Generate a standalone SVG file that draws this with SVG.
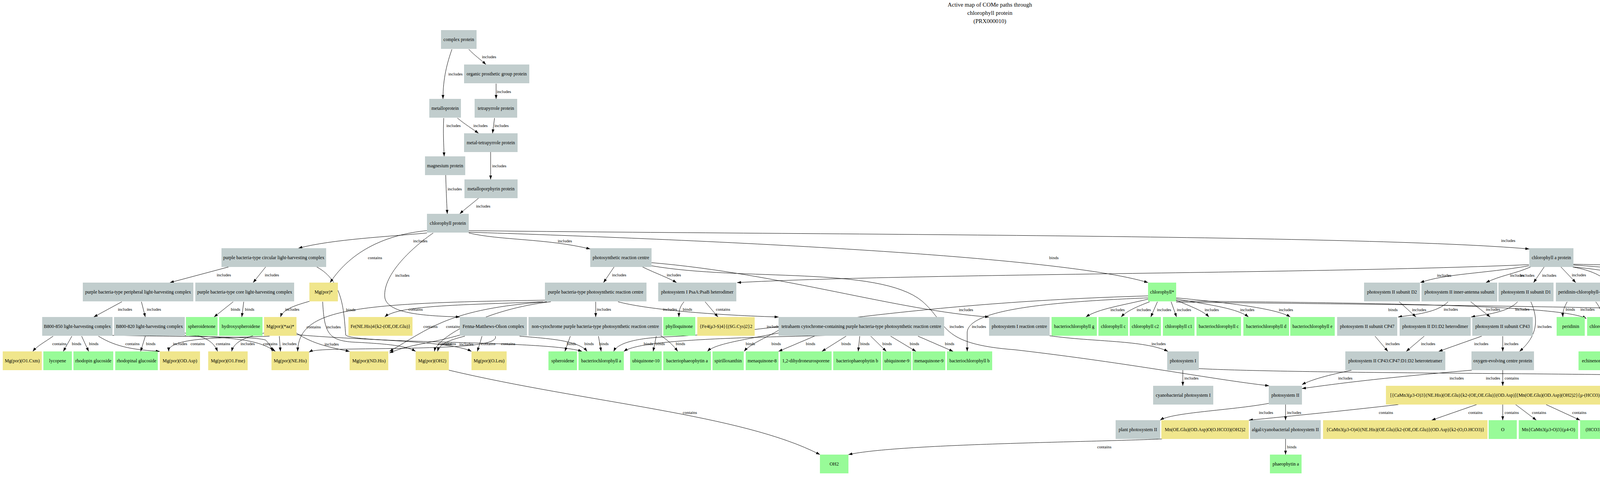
<svg xmlns="http://www.w3.org/2000/svg" width="5069" height="1228" viewBox="0 0 5069 1228">
<defs>
<marker id="a" markerWidth="10" markerHeight="8" refX="10" refY="3.5" orient="auto" markerUnits="userSpaceOnUse"><path d="M0,0L10,3.5L0,7z" fill="#000"/></marker>
<style>
text{font-family:"Liberation Serif","Times New Roman",serif;font-size:12px;text-anchor:middle;fill:#000}
.t{font-size:15px}
.l{font-size:11px}
.g rect{fill:#c1cdcd}
.y rect{fill:#f0e68c}
.v rect{fill:#98fb98}
#edges path{fill:none;stroke:#000;stroke-width:1;marker-end:url(#a)}
</style>
</defs>
<rect width="5069" height="1228" fill="#fff"/>
<g id="title">
<text class="t" x="2534" y="17">Active map of COMe paths through</text>
<text class="t" x="2534" y="38">chlorophyll protein</text>
<text class="t" x="2534" y="59">(PRX000010)</text>
</g>
<g id="edges">
<path d="M1157,126 C1145,160 1134,200 1134,253"/>
<path d="M1200,126 C1215,142 1230,152 1244,165"/>
<path d="M1270,214 L1270,253"/>
<path d="M1136,302 C1134,340 1136,370 1137,400"/>
<path d="M1171,302 C1190,318 1210,330 1225,341"/>
<path d="M1266,302 L1261,341"/>
<path d="M1256,389 L1256,459"/>
<path d="M1141,448 C1142,480 1143,510 1145,547"/>
<path d="M1225,507 C1210,520 1190,535 1177,547"/>
<path d="M1093,596 C1000,605 850,612 764,635"/>
<path d="M1093,590 C990,600 900,640 845,723"/>
<path d="M1109,596 C1060,630 980,700 985,760 C990,805 1100,808 1177,811"/>
<path d="M1200,596 C1280,615 1400,610 1511,637"/>
<path d="M1200,594 C1700,610 2700,650 2939,723"/>
<path d="M1200,590 C2000,600 3500,600 3915,637"/>
<path d="M1572,683 L1545,723"/>
<path d="M1645,683 C1680,700 1710,710 1732,723"/>
<path d="M1668,680 C1900,720 2250,680 2360,770 C2430,830 2400,880 2600,895 C2900,930 3100,970 3249,987"/>
<path d="M1668,672 C2000,700 2300,795 2532,811"/>
<path d="M3914,677 C3400,700 2300,700 1887,723"/>
<path d="M3914,680 C3800,700 3700,700 3636,723"/>
<path d="M3918,683 C3880,700 3840,705 3804,723"/>
<path d="M3953,683 L3926,723"/>
<path d="M3996,683 L4034,723"/>
<path d="M4028,683 C4100,690 4170,700 4200,723"/>
<path d="M4028,678 C4200,690 4400,710 4481,723"/>
<path d="M4028,676 C4300,680 4600,705 4718,723"/>
<path d="M4026,683 C4120,700 4150,740 4126,811"/>
<path d="M1525,772 L1525,811"/>
<path d="M1582,772 C1650,790 1800,805 1993,811"/>
<path d="M1390,772 C1200,780 1020,780 985,811"/>
<path d="M1395,768 C900,775 765,790 762,899"/>
<path d="M1400,772 C1150,790 1100,840 997,899"/>
<path d="M1410,772 C1250,790 1120,860 1112,899"/>
<path d="M1751,772 C1740,785 1738,795 1738,811"/>
<path d="M1805,772 L1838,811"/>
<path d="M795,770 C760,780 725,790 718,811"/>
<path d="M826,772 C830,850 840,870 900,875 C1000,880 1040,885 1064,899"/>
<path d="M585,683 L435,723"/>
<path d="M680,683 L648,723"/>
<path d="M811,683 C880,720 880,800 885,857 C900,880 1400,870 1490,899"/>
<path d="M312,772 L240,811"/>
<path d="M362,772 L372,811"/>
<path d="M597,772 L548,811"/>
<path d="M624,772 L619,811"/>
<path d="M136,860 C115,875 95,885 84,899"/>
<path d="M184,860 L162,899"/>
<path d="M209,860 L227,899"/>
<path d="M252,860 C300,890 350,895 409,899"/>
<path d="M288,858 C500,862 650,860 680,870 C690,880 695,890 697,899"/>
<path d="M372,860 L360,899"/>
<path d="M473,852 C520,860 545,870 557,899"/>
<path d="M473,858 C600,865 660,868 705,899"/>
<path d="M690,860 C600,865 430,860 432,899"/>
<path d="M676,852 C640,860 600,870 593,899"/>
<path d="M715,860 L718,899"/>
<path d="M759,852 C800,880 850,890 895,899"/>
<path d="M759,856 C900,870 1150,870 1207,899"/>
<path d="M1190,860 C1150,870 1125,880 1120,899"/>
<path d="M1185,855 C1100,880 1050,880 997,903"/>
<path d="M1234,860 L1222,899"/>
<path d="M1268,860 C1280,890 1100,890 900,893 C820,894 800,896 791,901"/>
<path d="M1330,860 C1400,866 1480,870 1503,899"/>
<path d="M1460,860 L1446,899"/>
<path d="M1532,860 L1539,899"/>
<path d="M1680,860 L1672,899"/>
<path d="M1690,858 C1710,870 1725,885 1735,899"/>
<path d="M1993,852 C1900,870 1830,880 1811,899"/>
<path d="M1993,845 C1960,865 1920,880 1905,899"/>
<path d="M2085,860 L1993,899"/>
<path d="M2166,860 L2104,899"/>
<path d="M2201,860 L2197,899"/>
<path d="M2229,860 L2269,899"/>
<path d="M2280,860 L2345,899"/>
<path d="M2350,860 L2440,899"/>
<path d="M2417,852 C2000,862 1650,862 1597,899"/>
<path d="M2939,757 C2300,775 2000,850 1700,862 C1620,866 1580,880 1571,899"/>
<path d="M2939,762 C2700,772 2480,790 2476,850 L2476,899"/>
<path d="M2687,859 C2800,875 2930,870 2990,899"/>
<path d="M2940,765 C2880,780 2810,790 2780,811"/>
<path d="M2943,772 C2910,785 2885,795 2870,811"/>
<path d="M2963,772 L2946,811"/>
<path d="M2998,772 L3012,811"/>
<path d="M3011,768 C3050,785 3080,795 3095,811"/>
<path d="M3011,765 C3100,780 3170,790 3196,811"/>
<path d="M3011,762 C3150,775 3270,790 3303,811"/>
<path d="M3011,770 C3500,775 4000,780 4061,815"/>
<path d="M3011,773 C3700,780 4500,790 4657,808"/>
<path d="M3028,947 L3028,987"/>
<path d="M3069,943 C3300,955 4000,955 4200,960 C4260,965 4300,975 4316,987"/>
<path d="M4870,772 C4900,820 4900,900 4800,940 C4700,985 4500,980 4425,987"/>
<path d="M3248,1032 C3150,1050 3000,1055 2970,1075"/>
<path d="M3291,1035 L3291,1075"/>
<path d="M3460,947 C3400,960 3360,970 3333,984"/>
<path d="M3768,947 C3500,970 3400,985 3333,994"/>
<path d="M3291,1123 L3291,1163"/>
<path d="M2975,1123 C2800,1131 2300,1135 2172,1163"/>
<path d="M1149,947 C1500,1030 1900,1060 2099,1163"/>
<path d="M3847,947 L3847,987"/>
<path d="M3580,1035 C3450,1050 3300,1065 3197,1075"/>
<path d="M3780,1035 L3665,1075"/>
<path d="M3847,1035 L3847,1075"/>
<path d="M3880,1035 L3933,1075"/>
<path d="M3958,1035 L4045,1075"/>
<path d="M3582,772 L3625,811"/>
<path d="M3707,772 C3680,800 3620,805 3579,811"/>
<path d="M3765,772 L3815,811"/>
<path d="M3885,772 C3860,800 3800,805 3766,811"/>
<path d="M3919,772 C3940,820 3935,860 3890,899"/>
<path d="M3520,860 L3553,899"/>
<path d="M3646,860 L3600,899"/>
<path d="M3793,860 L3683,899"/>
<path d="M3847,860 L3847,899"/>
<path d="M4012,772 C4005,785 4000,795 4001,811"/>
<path d="M4085,772 C4095,785 4100,795 4099,811"/>
<path d="M4185,770 C4170,785 4150,800 4140,815"/>
<path d="M4213,772 L4210,811"/>
<path d="M4269,765 C4340,775 4410,780 4393,811"/>
<path d="M4269,760 C4400,770 4460,780 4484,811"/>
<path d="M4481,770 C4350,775 4290,790 4140,818"/>
<path d="M4719,768 C4500,780 4300,795 4140,821"/>
<path d="M4582,772 L4585,811"/>
<path d="M4612,772 C4620,795 4640,800 4660,811"/>
<path d="M4696,772 C4720,790 4735,800 4740,811"/>
<path d="M4705,765 C4760,775 4755,800 4815,811"/>
<path d="M4719,765 C4680,780 4673,795 4676,811"/>
<path d="M4809,772 L4794,811"/>
<path d="M4839,772 L4848,811"/>
<path d="M4888,772 C4905,785 4915,800 4927,811"/>
<path d="M4937,772 C4965,780 4985,800 4997,811"/>
<path d="M4175,860 L4113,899"/>
<path d="M4212,860 L4212,899"/>
<path d="M4314,860 L4252,899"/>
<path d="M4368,860 L4395,899"/>
<path d="M4476,860 L4437,899"/>
<path d="M4513,860 L4536,899"/>
<path d="M4556,860 L4618,899"/>
<path d="M4648,947 L4648,987"/>
</g>
<g id="edge-labels">
<text class="l" x="1166" y="193">includes</text>
<text class="l" x="1252" y="149">includes</text>
<text class="l" x="1290" y="238">includes</text>
<text class="l" x="1161" y="325">includes</text>
<text class="l" x="1230" y="325">includes</text>
<text class="l" x="1284" y="325">includes</text>
<text class="l" x="1278" y="428">includes</text>
<text class="l" x="1164" y="487">includes</text>
<text class="l" x="1237" y="531">includes</text>
<text class="l" x="1076" y="620">includes</text>
<text class="l" x="960" y="663">contains</text>
<text class="l" x="1030" y="708">includes</text>
<text class="l" x="1446" y="620">includes</text>
<text class="l" x="2698" y="663">binds</text>
<text class="l" x="3861" y="619">includes</text>
<text class="l" x="1585" y="707">includes</text>
<text class="l" x="1725" y="707">includes</text>
<text class="l" x="2449" y="839">includes</text>
<text class="l" x="2473" y="796">includes</text>
<text class="l" x="3910" y="708">includes</text>
<text class="l" x="3697" y="708">includes</text>
<text class="l" x="3884" y="708">includes</text>
<text class="l" x="3966" y="708">includes</text>
<text class="l" x="4042" y="707">includes</text>
<text class="l" x="4204" y="707">includes</text>
<text class="l" x="4418" y="707">includes</text>
<text class="l" x="4656" y="707">includes</text>
<text class="l" x="4163" y="751">binds</text>
<text class="l" x="1546" y="795">includes</text>
<text class="l" x="1715" y="795">includes</text>
<text class="l" x="1064" y="795">contains</text>
<text class="l" x="803" y="840">contains</text>
<text class="l" x="1102" y="839">contains</text>
<text class="l" x="1160" y="839">contains</text>
<text class="l" x="1760" y="795">binds</text>
<text class="l" x="1851" y="795">contains</text>
<text class="l" x="748" y="795">includes</text>
<text class="l" x="854" y="840">includes</text>
<text class="l" x="573" y="707">includes</text>
<text class="l" x="696" y="707">includes</text>
<text class="l" x="898" y="796">binds</text>
<text class="l" x="320" y="795">includes</text>
<text class="l" x="394" y="795">includes</text>
<text class="l" x="603" y="795">binds</text>
<text class="l" x="639" y="795">binds</text>
<text class="l" x="152" y="883">contains</text>
<text class="l" x="196" y="883">binds</text>
<text class="l" x="240" y="883">binds</text>
<text class="l" x="339" y="883">contains</text>
<text class="l" x="692" y="883">contains</text>
<text class="l" x="386" y="883">binds</text>
<text class="l" x="506" y="883">contains</text>
<text class="l" x="571" y="883">contains</text>
<text class="l" x="461" y="883">includes</text>
<text class="l" x="634" y="883">includes</text>
<text class="l" x="741" y="883">includes</text>
<text class="l" x="849" y="884">includes</text>
<text class="l" x="1194" y="884">includes</text>
<text class="l" x="1139" y="883">contains</text>
<text class="l" x="1149" y="883">contains</text>
<text class="l" x="1250" y="883">contains</text>
<text class="l" x="1301" y="883">contains</text>
<text class="l" x="1508" y="883">binds</text>
<text class="l" x="1463" y="883">binds</text>
<text class="l" x="1546" y="883">binds</text>
<text class="l" x="1690" y="883">binds</text>
<text class="l" x="1742" y="883">binds</text>
<text class="l" x="1921" y="883">binds</text>
<text class="l" x="1987" y="883">binds</text>
<text class="l" x="2075" y="883">binds</text>
<text class="l" x="2166" y="883">binds</text>
<text class="l" x="2214" y="883">binds</text>
<text class="l" x="2271" y="883">binds</text>
<text class="l" x="2341" y="883">binds</text>
<text class="l" x="2431" y="883">binds</text>
<text class="l" x="1660" y="883">binds</text>
<text class="l" x="2506" y="839">includes</text>
<text class="l" x="1981" y="839">includes</text>
<text class="l" x="2966" y="883">includes</text>
<text class="l" x="2861" y="796">includes</text>
<text class="l" x="2928" y="796">includes</text>
<text class="l" x="2980" y="796">includes</text>
<text class="l" x="3031" y="796">includes</text>
<text class="l" x="3102" y="796">includes</text>
<text class="l" x="3193" y="796">includes</text>
<text class="l" x="3292" y="796">includes</text>
<text class="l" x="4064" y="795">includes</text>
<text class="l" x="3050" y="971">includes</text>
<text class="l" x="3822" y="971">includes</text>
<text class="l" x="4905" y="883">includes</text>
<text class="l" x="3241" y="1059">includes</text>
<text class="l" x="3313" y="1059">includes</text>
<text class="l" x="3444" y="971">includes</text>
<text class="l" x="3729" y="971">includes</text>
<text class="l" x="3307" y="1147">binds</text>
<text class="l" x="2827" y="1147">contains</text>
<text class="l" x="1766" y="1059">contains</text>
<text class="l" x="3870" y="971">contains</text>
<text class="l" x="3548" y="1059">contains</text>
<text class="l" x="3777" y="1059">contains</text>
<text class="l" x="3870" y="1059">contains</text>
<text class="l" x="3940" y="1059">contains</text>
<text class="l" x="4043" y="1059">contains</text>
<text class="l" x="3566" y="796">binds</text>
<text class="l" x="3633" y="796">includes</text>
<text class="l" x="3714" y="795">includes</text>
<text class="l" x="3822" y="795">includes</text>
<text class="l" x="3897" y="795">includes</text>
<text class="l" x="3954" y="839">includes</text>
<text class="l" x="3565" y="883">includes</text>
<text class="l" x="3656" y="883">includes</text>
<text class="l" x="3792" y="883">includes</text>
<text class="l" x="3869" y="883">includes</text>
<text class="l" x="4020" y="795">binds</text>
<text class="l" x="4110" y="795">binds</text>
<text class="l" x="4190" y="795">binds</text>
<text class="l" x="4236" y="795">includes</text>
<text class="l" x="4381" y="795">includes</text>
<text class="l" x="4493" y="795">includes</text>
<text class="l" x="4292" y="795">binds</text>
<text class="l" x="4335" y="795">binds</text>
<text class="l" x="4600" y="795">binds</text>
<text class="l" x="4646" y="795">binds</text>
<text class="l" x="4735" y="795">binds</text>
<text class="l" x="4778" y="795">binds</text>
<text class="l" x="4699" y="795">binds</text>
<text class="l" x="4819" y="795">binds</text>
<text class="l" x="4858" y="795">binds</text>
<text class="l" x="4938" y="795">includes</text>
<text class="l" x="5005" y="795">includes</text>
<text class="l" x="4175" y="883">binds</text>
<text class="l" x="4236" y="883">includes</text>
<text class="l" x="4320" y="883">includes</text>
<text class="l" x="4408" y="883">includes</text>
<text class="l" x="4486" y="883">includes</text>
<text class="l" x="4545" y="883">binds</text>
<text class="l" x="4622" y="883">contains</text>
<text class="l" x="4672" y="971">contains</text>
</g>
<g id="n1" class="g"><rect x="1129" y="77" width="91" height="48"/><text x="1174.5" y="105">complex protein</text></g>
<g id="n2" class="g"><rect x="1188" y="165" width="167" height="48"/><text x="1271.5" y="193">organic prosthetic group protein</text></g>
<g id="n3" class="g"><rect x="1099" y="253" width="81" height="48"/><text x="1139.5" y="281">metalloprotein</text></g>
<g id="n4" class="g"><rect x="1215" y="253" width="109" height="48"/><text x="1269.5" y="281">tetrapyrrole protein</text></g>
<g id="n5" class="g"><rect x="1188" y="341" width="137" height="48"/><text x="1256.5" y="369">metal-tetrapyrrole protein</text></g>
<g id="n6" class="g"><rect x="1088" y="400" width="103" height="48"/><text x="1139.5" y="428">magnesium protein</text></g>
<g id="n7" class="g"><rect x="1189" y="459" width="136" height="48"/><text x="1257" y="487">metalloporphyrin protein</text></g>
<g id="n8" class="g"><rect x="1093" y="547" width="107" height="48"/><text x="1146.5" y="575">chlorophyll protein</text></g>
<g id="n9" class="g"><rect x="567" y="635" width="268" height="48"/><text x="701" y="663">purple bacteria-type circular light-harvesting complex</text></g>
<g id="n10" class="g"><rect x="1511" y="635" width="157" height="48"/><text x="1589.5" y="663">photosynthetic reaction centre</text></g>
<g id="n11" class="g"><rect x="3915" y="635" width="113" height="48"/><text x="3971.5" y="663">chlorophyll a protein</text></g>
<g id="n12" class="g"><rect x="212" y="723" width="283" height="48"/><text x="353.5" y="751">purple bacteria-type peripheral light-harvesting complex</text></g>
<g id="n13" class="g"><rect x="500" y="723" width="253" height="48"/><text x="626.5" y="751">purple bacteria-type core light-harvesting complex</text></g>
<g id="n14" class="y"><rect x="792" y="723" width="73" height="48"/><text x="828.5" y="751">Mg(por)*</text></g>
<g id="n15" class="g"><rect x="1395" y="723" width="260" height="48"/><text x="1525" y="751">purple bacteria-type photosynthetic reaction centre</text></g>
<g id="n16" class="g"><rect x="1685" y="723" width="200" height="48"/><text x="1785" y="751">photosystem I PsaA:PsaB heterodimer</text></g>
<g id="n17" class="v"><rect x="2939" y="723" width="72" height="48"/><text x="2975" y="751">chlorophyll*</text></g>
<g id="n18" class="g"><rect x="3492" y="723" width="143" height="48"/><text x="3563.5" y="751">photosystem II subunit D2</text></g>
<g id="n19" class="g"><rect x="3639" y="723" width="194" height="48"/><text x="3736" y="751">photosystem II inner-antenna subunit</text></g>
<g id="n20" class="g"><rect x="3836" y="723" width="141" height="48"/><text x="3906.5" y="751">photosystem II subunit D1</text></g>
<g id="n21" class="g"><rect x="3983" y="723" width="153" height="48"/><text x="4059.5" y="751">peridinin-chlorophyll-protein</text></g>
<g id="n22" class="g"><rect x="4185" y="723" width="84" height="48"/><text x="4227" y="751">cytochrome b6</text></g>
<g id="n23" class="g"><rect x="4481" y="723" width="224" height="48"/><text x="4593" y="751">chloroplast-type light-harvesting complex II</text></g>
<g id="n24" class="g"><rect x="4719" y="723" width="218" height="48"/><text x="4828" y="751">chloroplast-type light-harvesting complex I</text></g>
<g id="n25" class="g"><rect x="108" y="811" width="180" height="48"/><text x="198" y="839">B800-850 light-harvesting complex</text></g>
<g id="n26" class="g"><rect x="292" y="811" width="181" height="48"/><text x="382.5" y="839">B800-820 light-harvesting complex</text></g>
<g id="n27" class="v"><rect x="476" y="811" width="81" height="48"/><text x="516.5" y="839">spheroidenone</text></g>
<g id="n28" class="v"><rect x="561" y="811" width="111" height="48"/><text x="616.5" y="839">hydroxyspheroidene</text></g>
<g id="n29" class="y"><rect x="676" y="811" width="83" height="48"/><text x="717.5" y="839">Mg(por)(*aa)*</text></g>
<g id="n30" class="y"><rect x="892" y="811" width="164" height="48"/><text x="974" y="839">Fe(NE.His)4{k2-(OE,OE.Glu)}</text></g>
<g id="n31" class="g"><rect x="1177" y="811" width="172" height="48"/><text x="1263" y="839">Fenna-Matthews-Olson complex</text></g>
<g id="n32" class="g"><rect x="1353" y="811" width="342" height="48"/><text x="1524" y="839">non-cytochrome purple bacteria-type photosynthetic reaction centre</text></g>
<g id="n33" class="v"><rect x="1698" y="811" width="82" height="48"/><text x="1739" y="839">phylloquinone</text></g>
<g id="n34" class="y"><rect x="1785" y="811" width="147" height="48"/><text x="1858.5" y="839">{Fe4(μ3-S)4}{(SG.Cys)2}2</text></g>
<g id="n35" class="g"><rect x="1993" y="811" width="424" height="48"/><text x="2205" y="839">tetrahaem cytochrome-containing purple bacteria-type photosynthetic reaction centre</text></g>
<g id="n36" class="g"><rect x="2532" y="811" width="155" height="48"/><text x="2609.5" y="839">photosystem I reaction centre</text></g>
<g id="n37" class="v"><rect x="2692" y="811" width="116" height="48"/><text x="2750" y="839">bacteriochlorophyll g</text></g>
<g id="n38" class="v"><rect x="2812" y="811" width="76" height="48"/><text x="2850" y="839">chlorophyll c</text></g>
<g id="n39" class="v"><rect x="2892" y="811" width="80" height="48"/><text x="2932" y="839">chlorophyll c2</text></g>
<g id="n40" class="v"><rect x="2977" y="811" width="81" height="48"/><text x="3017.5" y="839">chlorophyll c1</text></g>
<g id="n41" class="v"><rect x="3063" y="811" width="114" height="48"/><text x="3120" y="839">bacteriochlorophyll c</text></g>
<g id="n42" class="v"><rect x="3183" y="811" width="117" height="48"/><text x="3241.5" y="839">bacteriochlorophyll d</text></g>
<g id="n43" class="v"><rect x="3303" y="811" width="114" height="48"/><text x="3360" y="839">bacteriochlorophyll e</text></g>
<g id="n44" class="g"><rect x="3423" y="811" width="154" height="48"/><text x="3500" y="839">photosystem II subunit CP47</text></g>
<g id="n45" class="g"><rect x="3583" y="811" width="182" height="48"/><text x="3674" y="839">photosystem II D1:D2 heterodimer</text></g>
<g id="n46" class="g"><rect x="3769" y="811" width="155" height="48"/><text x="3846.5" y="839">photosystem II subunit CP43</text></g>
<g id="n47" class="v"><rect x="3985" y="811" width="72" height="48"/><text x="4021" y="839">peridinin</text></g>
<g id="n48" class="v"><rect x="4063" y="811" width="76" height="48"/><text x="4101" y="839">chlorophyll a</text></g>
<g id="n49" class="g"><rect x="4143" y="811" width="139" height="48"/><text x="4212.5" y="839">echinenone cytochrome b6</text></g>
<g id="n50" class="g"><rect x="4287" y="811" width="131" height="48"/><text x="4352.5" y="839">cytochrome b6f complex</text></g>
<g id="n51" class="g"><rect x="4423" y="811" width="152" height="48"/><text x="4499" y="839">beta-carotene cytochrome b6</text></g>
<g id="n52" class="v"><rect x="4580" y="811" width="73" height="48"/><text x="4616.5" y="839">neoxanthin</text></g>
<g id="n53" class="v"><rect x="4657" y="811" width="76" height="48"/><text x="4695" y="839">chlorophyll b</text></g>
<g id="n54" class="v"><rect x="4737" y="811" width="73" height="48"/><text x="4773.5" y="839">violaxanthin</text></g>
<g id="n55" class="v"><rect x="4815" y="811" width="73" height="48"/><text x="4851.5" y="839">lutein</text></g>
<g id="n56" class="g"><rect x="4905" y="811" width="72" height="48"/><text x="4941" y="839">LHCI-680</text></g>
<g id="n57" class="g"><rect x="4983" y="811" width="72" height="48"/><text x="5019" y="839">LHCI-730</text></g>
<g id="n58" class="y"><rect x="7" y="899" width="100" height="48"/><text x="57" y="927">Mg(por)(O1.Cxm)</text></g>
<g id="n59" class="v"><rect x="111" y="899" width="73" height="48"/><text x="147.5" y="927">lycopene</text></g>
<g id="n60" class="v"><rect x="188" y="899" width="102" height="48"/><text x="239" y="927">rhodopin glucoside</text></g>
<g id="n61" class="v"><rect x="295" y="899" width="109" height="48"/><text x="349.5" y="927">rhodopinal glucoside</text></g>
<g id="n62" class="y"><rect x="409" y="899" width="103" height="48"/><text x="460.5" y="927">Mg(por)(OD.Asp)</text></g>
<g id="n63" class="y"><rect x="533" y="899" width="101" height="48"/><text x="583.5" y="927">Mg(por)(O1.Fme)</text></g>
<g id="n64" class="y"><rect x="695" y="899" width="96" height="48"/><text x="743" y="927">Mg(por)(NE.His)</text></g>
<g id="n65" class="y"><rect x="895" y="899" width="99" height="48"/><text x="944.5" y="927">Mg(por)(ND.His)</text></g>
<g id="n66" class="y"><rect x="1064" y="899" width="85" height="48"/><text x="1106.5" y="927">Mg(por)(OH2)</text></g>
<g id="n67" class="y"><rect x="1207" y="899" width="90" height="48"/><text x="1252" y="927">Mg(por)(O.Leu)</text></g>
<g id="n68" class="v"><rect x="1404" y="899" width="73" height="48"/><text x="1440.5" y="927">spheroidene</text></g>
<g id="n69" class="v"><rect x="1481" y="899" width="116" height="48"/><text x="1539" y="927">bacteriochlorophyll a</text></g>
<g id="n70" class="v"><rect x="1613" y="899" width="81" height="48"/><text x="1653.5" y="927">ubiquinone-10</text></g>
<g id="n71" class="v"><rect x="1698" y="899" width="122" height="48"/><text x="1759" y="927">bacteriophaeophytin a</text></g>
<g id="n72" class="v"><rect x="1824" y="899" width="80" height="48"/><text x="1864" y="927">spirilloxanthin</text></g>
<g id="n73" class="v"><rect x="1909" y="899" width="84" height="48"/><text x="1951" y="927">menaquinone-8</text></g>
<g id="n74" class="v"><rect x="1997" y="899" width="132" height="48"/><text x="2063" y="927">1,2-dihydroneurosporene</text></g>
<g id="n75" class="v"><rect x="2133" y="899" width="123" height="48"/><text x="2194.5" y="927">bacteriophaeophytin b</text></g>
<g id="n76" class="v"><rect x="2259" y="899" width="74" height="48"/><text x="2296" y="927">ubiquinone-9</text></g>
<g id="n77" class="v"><rect x="2336" y="899" width="84" height="48"/><text x="2378" y="927">menaquinone-9</text></g>
<g id="n78" class="v"><rect x="2424" y="899" width="116" height="48"/><text x="2482" y="927">bacteriochlorophyll b</text></g>
<g id="n79" class="g"><rect x="2988" y="899" width="81" height="48"/><text x="3028.5" y="927">photosystem I</text></g>
<g id="n80" class="g"><rect x="3444" y="899" width="256" height="48"/><text x="3572" y="927">photosystem II CP43:CP47:D1:D2 heterotetramer</text></g>
<g id="n81" class="g"><rect x="3767" y="899" width="160" height="48"/><text x="3847" y="927">oxygen-evolving centre protein</text></g>
<g id="n82" class="v"><rect x="4041" y="899" width="72" height="48"/><text x="4077" y="927">echinenone</text></g>
<g id="n83" class="g"><rect x="4119" y="899" width="187" height="48"/><text x="4212.5" y="927">echinenone cytochrome b6f complex</text></g>
<g id="n84" class="g"><rect x="4311" y="899" width="200" height="48"/><text x="4411" y="927">beta-carotene cytochrome b6f complex</text></g>
<g id="n85" class="v"><rect x="4516" y="899" width="76" height="48"/><text x="4554" y="927">beta-carotene</text></g>
<g id="n86" class="y"><rect x="4596" y="899" width="104" height="48"/><text x="4648" y="927">Fe{(por)(SG.Cys)}</text></g>
<g id="n87" class="g"><rect x="2952" y="987" width="154" height="48"/><text x="3029" y="1015">cyanobacterial photosystem I</text></g>
<g id="n88" class="g"><rect x="3248" y="987" width="85" height="48"/><text x="3290.5" y="1015">photosystem II</text></g>
<g id="n89" class="y"><rect x="3548" y="987" width="597" height="48"/><text x="3846.5" y="1015">[{CaMn3(μ3-O)3}(NE.His)(OE.Glu){k2-(OE,OE.Glu)}(OD.Asp)]{Mn(OE.Glu)(OD.Asp)(OH2)2}{μ-(HCO3)}(μ4-O)</text></g>
<g id="n90" class="g"><rect x="4316" y="987" width="109" height="48"/><text x="4370.5" y="1015">plant photosystem I</text></g>
<g id="n91" class="y"><rect x="4595" y="987" width="108" height="48"/><text x="4649" y="1015">(C3-1.por)(SG.Cys)</text></g>
<g id="n92" class="g"><rect x="2856" y="1075" width="114" height="48"/><text x="2913" y="1103">plant photosystem II</text></g>
<g id="n93" class="y"><rect x="2973" y="1075" width="224" height="48"/><text x="3085" y="1103">Mn(OE.Glu)(OD.Asp)O(O.HCO3)(OH2)2</text></g>
<g id="n94" class="g"><rect x="3200" y="1075" width="181" height="48"/><text x="3290.5" y="1103">algal/cyanobacterial photosystem II</text></g>
<g id="n95" class="y"><rect x="3387" y="1075" width="421" height="48"/><text x="3597.5" y="1103">{CaMn3(μ3-O)4}(NE.His)(OE.Glu){k2-(OE,OE.Glu)}(OD.Asp){k2-(O,O.HCO3)}</text></g>
<g id="n96" class="v"><rect x="3811" y="1075" width="72" height="48"/><text x="3847" y="1103">O</text></g>
<g id="n97" class="v"><rect x="3888" y="1075" width="152" height="48"/><text x="3964" y="1103">Mn{CaMn3(μ3-O)3}(μ4-O)</text></g>
<g id="n98" class="v"><rect x="4045" y="1075" width="72" height="48"/><text x="4081" y="1103">(HCO3)-</text></g>
<g id="n99" class="v"><rect x="2099" y="1163" width="73" height="48"/><text x="2135.5" y="1191">OH2</text></g>
<g id="n100" class="v"><rect x="3251" y="1163" width="81" height="48"/><text x="3291.5" y="1191">phaeophytin a</text></g>
</svg>
